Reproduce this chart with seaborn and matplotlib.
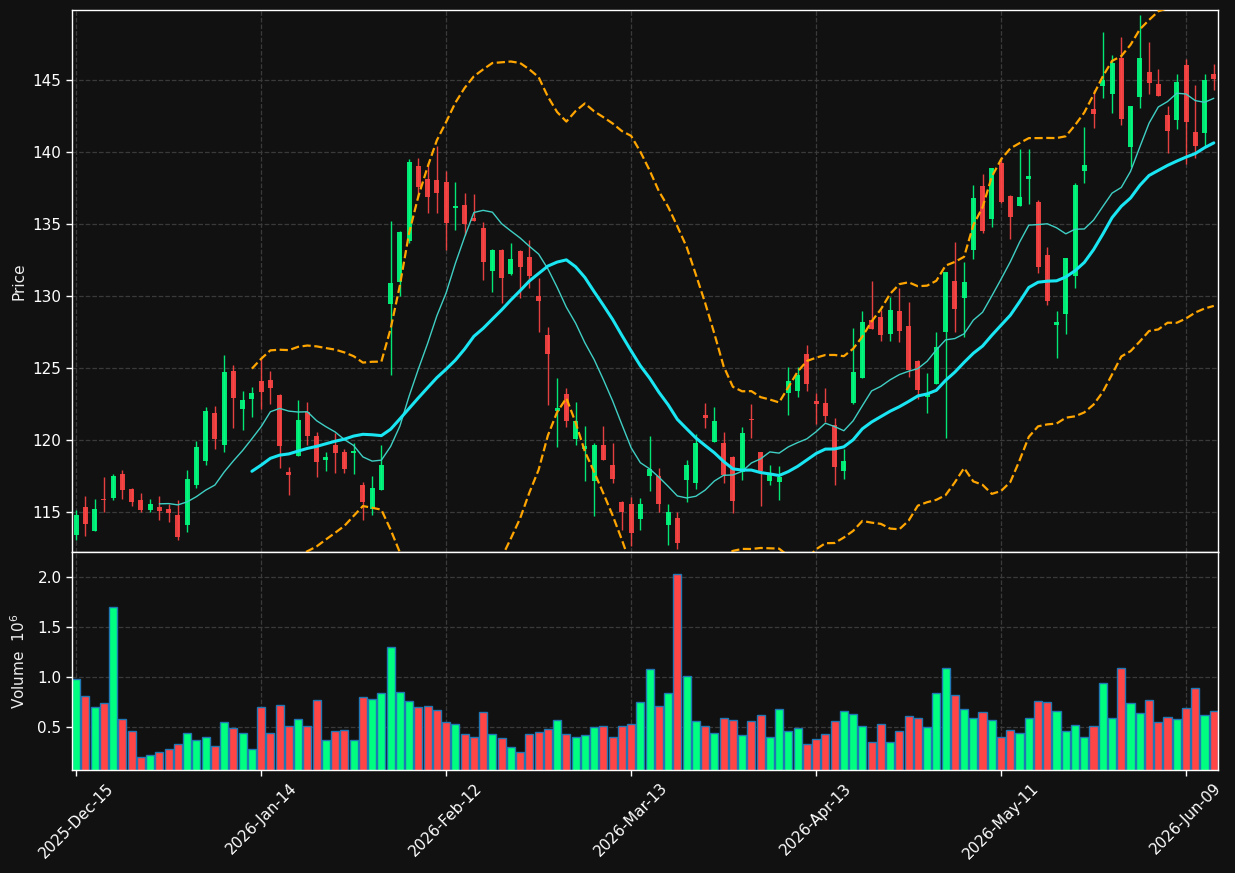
import numpy as np
import pandas as pd
import matplotlib
matplotlib.use("Agg")
import matplotlib.pyplot as plt
import seaborn as sns

# daily OHLC (one entry per trading day)
opens = [113.43, 115.37, 113.73, 115.92, 116.02, 117.66, 116.62, 115.86, 115.19, 115.37,
         115.23, 114.81, 114.14, 116.92, 118.59, 121.90, 119.70, 124.81, 122.20, 122.85,
         124.12, 124.19, 123.15, 117.80, 118.94, 121.97, 120.30, 118.63, 119.68, 119.19,
         119.14, 116.90, 115.21, 116.57, 129.49, 131.02, 133.87, 139.05, 138.15, 138.08,
         137.92, 136.10, 136.34, 135.44, 134.75, 131.78, 133.22, 131.57, 133.15, 132.73,
         130.02, 127.31, 122.01, 123.19, 120.12, 119.42, 117.20, 119.68, 118.29, 115.72,
         115.58, 114.56, 117.55, 117.52, 114.14, 114.61, 117.27, 117.06, 121.76, 119.91,
         119.79, 118.84, 117.78, 121.48, 119.19, 117.20, 117.10, 123.31, 123.45, 125.99,
         122.73, 122.59, 121.06, 117.89, 122.62, 124.35, 128.33, 128.56, 127.38, 128.98,
         127.94, 125.51, 123.03, 123.91, 127.55, 131.07, 129.88, 133.22, 137.66, 135.37,
         139.26, 136.97, 136.30, 138.13, 136.55, 132.85, 128.03, 128.80, 131.41, 138.70,
         143.00, 144.61, 144.03, 146.57, 140.37, 143.84, 145.58, 144.72, 142.57, 142.25,
         146.04, 141.41, 141.32, 145.46]
highs = [115.19, 116.11, 115.90, 117.43, 117.64, 117.92, 116.69, 116.32, 115.90, 116.13,
         115.58, 115.83, 117.94, 119.95, 122.29, 122.38, 125.92, 125.20, 123.40, 123.68,
         125.69, 124.79, 123.20, 118.13, 122.80, 122.64, 120.60, 119.21, 120.53, 119.42,
         119.79, 117.08, 117.55, 119.65, 135.21, 134.54, 139.51, 139.58, 139.24, 140.40,
         138.73, 137.92, 137.15, 137.08, 135.14, 133.26, 133.30, 133.68, 133.20, 133.91,
         131.27, 127.85, 124.33, 123.61, 122.64, 121.02, 119.79, 121.00, 119.84, 115.75,
         116.09, 115.97, 120.28, 118.06, 115.56, 115.02, 118.61, 120.42, 122.57, 122.29,
         120.56, 118.90, 120.95, 122.50, 119.20, 118.26, 118.19, 125.12, 125.12, 126.62,
         123.26, 123.61, 121.57, 119.38, 127.78, 128.96, 131.04, 129.05, 129.98, 130.56,
         129.63, 125.55, 124.65, 127.52, 131.69, 133.75, 132.36, 137.71, 138.50, 138.91,
         139.70, 137.00, 140.20, 140.20, 136.67, 133.40, 128.96, 132.64, 137.85, 141.78,
         144.30, 148.38, 146.74, 148.03, 143.19, 149.51, 147.64, 145.76, 143.22, 145.42,
         146.46, 144.65, 145.46, 146.16]
lows = [113.06, 113.38, 113.70, 115.00, 115.83, 115.90, 115.42, 115.05, 115.00, 114.49,
        114.35, 113.06, 113.61, 116.67, 118.26, 119.38, 119.21, 120.83, 120.69, 121.60,
        122.15, 122.52, 118.06, 116.18, 118.90, 119.65, 117.43, 117.89, 117.75, 117.71,
        117.66, 114.47, 114.81, 116.57, 124.51, 130.02, 133.70, 136.92, 135.76, 135.76,
        133.22, 134.60, 134.26, 135.19, 131.13, 130.30, 129.56, 131.50, 129.88, 130.56,
        127.50, 122.43, 119.51, 120.95, 119.65, 117.20, 114.75, 118.60, 117.01, 113.80,
        112.66, 113.77, 116.50, 115.05, 112.71, 112.48, 115.69, 116.60, 120.88, 119.90,
        117.06, 114.93, 117.22, 120.14, 115.44, 116.92, 115.86, 121.78, 122.99, 123.45,
        121.11, 121.30, 116.90, 117.29, 122.50, 124.30, 127.70, 126.92, 126.92, 126.81,
        124.42, 122.85, 121.88, 123.90, 120.14, 127.55, 127.20, 132.57, 134.42, 134.79,
        136.50, 133.96, 136.30, 136.39, 131.64, 129.38, 125.72, 127.36, 130.58, 137.85,
        141.67, 143.75, 142.69, 141.92, 138.94, 143.08, 144.07, 143.91, 139.98, 141.64,
        139.17, 139.63, 140.39, 144.30]
closes = [114.81, 114.21, 115.23, 115.88, 117.52, 116.57, 115.74, 115.19, 115.58, 115.12,
          114.98, 113.31, 117.31, 119.51, 122.04, 120.12, 124.75, 122.96, 122.80, 123.26,
          123.38, 123.66, 119.63, 117.62, 121.41, 120.32, 118.52, 118.82, 119.14, 117.99,
          119.26, 115.74, 116.69, 118.29, 130.93, 134.47, 139.33, 137.62, 136.92, 137.20,
          135.12, 136.27, 135.05, 135.25, 132.41, 133.22, 131.30, 132.59, 132.06, 131.44,
          129.70, 126.02, 122.25, 121.37, 121.37, 119.60, 119.68, 118.63, 117.31, 115.02,
          113.59, 115.58, 118.01, 115.60, 115.02, 112.89, 118.29, 119.79, 121.57, 121.34,
          117.59, 115.79, 120.49, 121.44, 117.89, 117.71, 117.45, 124.12, 124.54, 123.94,
          122.55, 121.69, 118.17, 118.56, 124.72, 128.22, 127.73, 127.31, 129.05, 127.59,
          124.88, 123.50, 123.26, 126.48, 131.69, 129.12, 131.00, 136.83, 134.54, 138.91,
          136.55, 135.53, 136.88, 138.36, 132.04, 129.68, 128.22, 132.64, 137.73, 139.10,
          142.66, 145.00, 146.18, 142.31, 143.19, 146.57, 144.79, 143.91, 141.48, 144.88,
          142.11, 140.44, 145.00, 145.07]
# volume in millions of shares
volume = [0.98, 0.81, 0.70, 0.74, 1.70, 0.58, 0.46, 0.20, 0.22, 0.25,
          0.28, 0.33, 0.44, 0.37, 0.40, 0.31, 0.55, 0.49, 0.44, 0.28,
          0.70, 0.44, 0.72, 0.51, 0.58, 0.51, 0.77, 0.37, 0.46, 0.47,
          0.37, 0.80, 0.78, 0.84, 1.30, 0.85, 0.76, 0.70, 0.71, 0.67,
          0.55, 0.53, 0.43, 0.40, 0.65, 0.43, 0.39, 0.30, 0.25, 0.43,
          0.45, 0.48, 0.57, 0.43, 0.40, 0.42, 0.50, 0.51, 0.40, 0.51,
          0.53, 0.75, 1.08, 0.71, 0.84, 2.03, 1.01, 0.56, 0.51, 0.44,
          0.59, 0.57, 0.42, 0.56, 0.62, 0.40, 0.68, 0.46, 0.49, 0.33,
          0.38, 0.43, 0.56, 0.66, 0.63, 0.51, 0.35, 0.53, 0.35, 0.46,
          0.61, 0.59, 0.50, 0.84, 1.09, 0.82, 0.68, 0.59, 0.65, 0.57,
          0.40, 0.47, 0.44, 0.59, 0.76, 0.75, 0.66, 0.46, 0.52, 0.40,
          0.51, 0.94, 0.59, 1.09, 0.74, 0.64, 0.77, 0.55, 0.60, 0.58,
          0.69, 0.89, 0.62, 0.66]

# trading days (NYSE holidays skipped)
holidays = ["2025-12-25", "2026-01-01", "2026-01-19", "2026-02-16", "2026-04-03", "2026-05-25"]
dates = pd.bdate_range("2025-12-15", periods=len(closes), freq="C", holidays=holidays)

df = pd.DataFrame({"open": opens, "high": highs, "low": lows, "close": closes, "volume": volume})
df["idx"] = np.arange(len(df))
df["dir"] = np.where(df["close"] >= df["open"], "up", "down")
df["ma10"] = df["close"].rolling(10).mean()
df["ma20"] = df["close"].rolling(20).mean()
std20 = df["close"].rolling(20).std()
df["upper"] = df["ma20"] + 2 * std20
df["lower"] = df["ma20"] - 2 * std20

bg = "#111111"
up_c = "#00ff80"
down_c = "#ff4545"
sns.set_theme(style="dark", rc={
    "figure.facecolor": bg, "axes.facecolor": bg, "axes.edgecolor": "white",
    "axes.labelcolor": "#eeeeee", "xtick.color": "white", "ytick.color": "white",
    "text.color": "white", "grid.color": "#3a3a3a", "grid.linestyle": "--",
    "grid.linewidth": 0.9, "xtick.bottom": True, "ytick.left": True,
})
plt.rcParams["font.family"] = ["DejaVu Sans"]

fig = plt.figure(figsize=(12.35, 8.73), dpi=100)
ax1 = fig.add_axes([0.0583, 0.3677, 0.9279, 0.6209])
ax2 = fig.add_axes([0.0583, 0.1180, 0.9279, 0.2497], sharex=ax1)

# candles
cols = [up_c if d == "up" else down_c for d in df["dir"]]
ax1.vlines(df["idx"], df["low"], df["high"], colors=cols, linewidth=1.0, alpha=0.9, zorder=2)
body_lo = np.minimum(df["open"], df["close"])
body_h = (df["close"] - df["open"]).abs()
ax1.bar(df["idx"], body_h, bottom=body_lo, width=0.55, color=cols, alpha=0.9, linewidth=0, zorder=3)

# moving averages and bands
sns.lineplot(data=df, x="idx", y="ma10", ax=ax1, color="#3fcfc4", linewidth=1.0, zorder=4)
sns.lineplot(data=df, x="idx", y="ma20", ax=ax1, color="#19e6f2", linewidth=2.2, zorder=4)
sns.lineplot(data=df, x="idx", y="upper", ax=ax1, color="#ffa500", linewidth=1.6, linestyle="--", zorder=4)
sns.lineplot(data=df, x="idx", y="lower", ax=ax1, color="#ffa500", linewidth=1.6, linestyle="--", zorder=4)

# volume
sns.barplot(data=df, x="idx", y="volume", hue="dir", palette={"up": up_c, "down": down_c},
            native_scale=True, width=0.88, saturation=1, dodge=False, errorbar=None,
            edgecolor="#1f77b4", linewidth=1.0, legend=False, ax=ax2)

ticks = list(range(0, len(df), 20))
ax2.set_xticks(ticks)
ax2.set_xticklabels([dates[i].strftime("%Y-%b-%d") for i in ticks], rotation=45, fontsize=11)
ax2.set_xlim(-0.45, len(df) - 0.55)
plt.setp(ax1.get_xticklabels(), visible=False)
ax1.tick_params(axis="x", bottom=False)

ax1.set_ylim(112.24, 149.88)
ax1.set_yticks([115, 120, 125, 130, 135, 140, 145])
ax2.set_ylim(0.07, 2.25)
ax2.set_yticks([0.5, 1.0, 1.5, 2.0])
ax2.set_yticklabels(["0.5", "1.0", "1.5", "2.0"])
for ax in (ax1, ax2):
    ax.grid(True, axis="both")
    ax.tick_params(axis="y", labelsize=11, length=4, width=1)
    ax.tick_params(axis="x", length=4, width=1)
    for s in ax.spines.values():
        s.set_color("white")
        s.set_linewidth(1.0)

ax1.set_xlabel("")
ax2.set_xlabel("")
ax1.set_ylabel("Price", fontsize=11)
ax2.set_ylabel("Volume  $10^{6}$", fontsize=11)
ax1.yaxis.set_label_coords(-0.040, 0.5)
ax2.yaxis.set_label_coords(-0.038, 0.5)

fig.savefig("out.png", dpi=100, facecolor=bg)
